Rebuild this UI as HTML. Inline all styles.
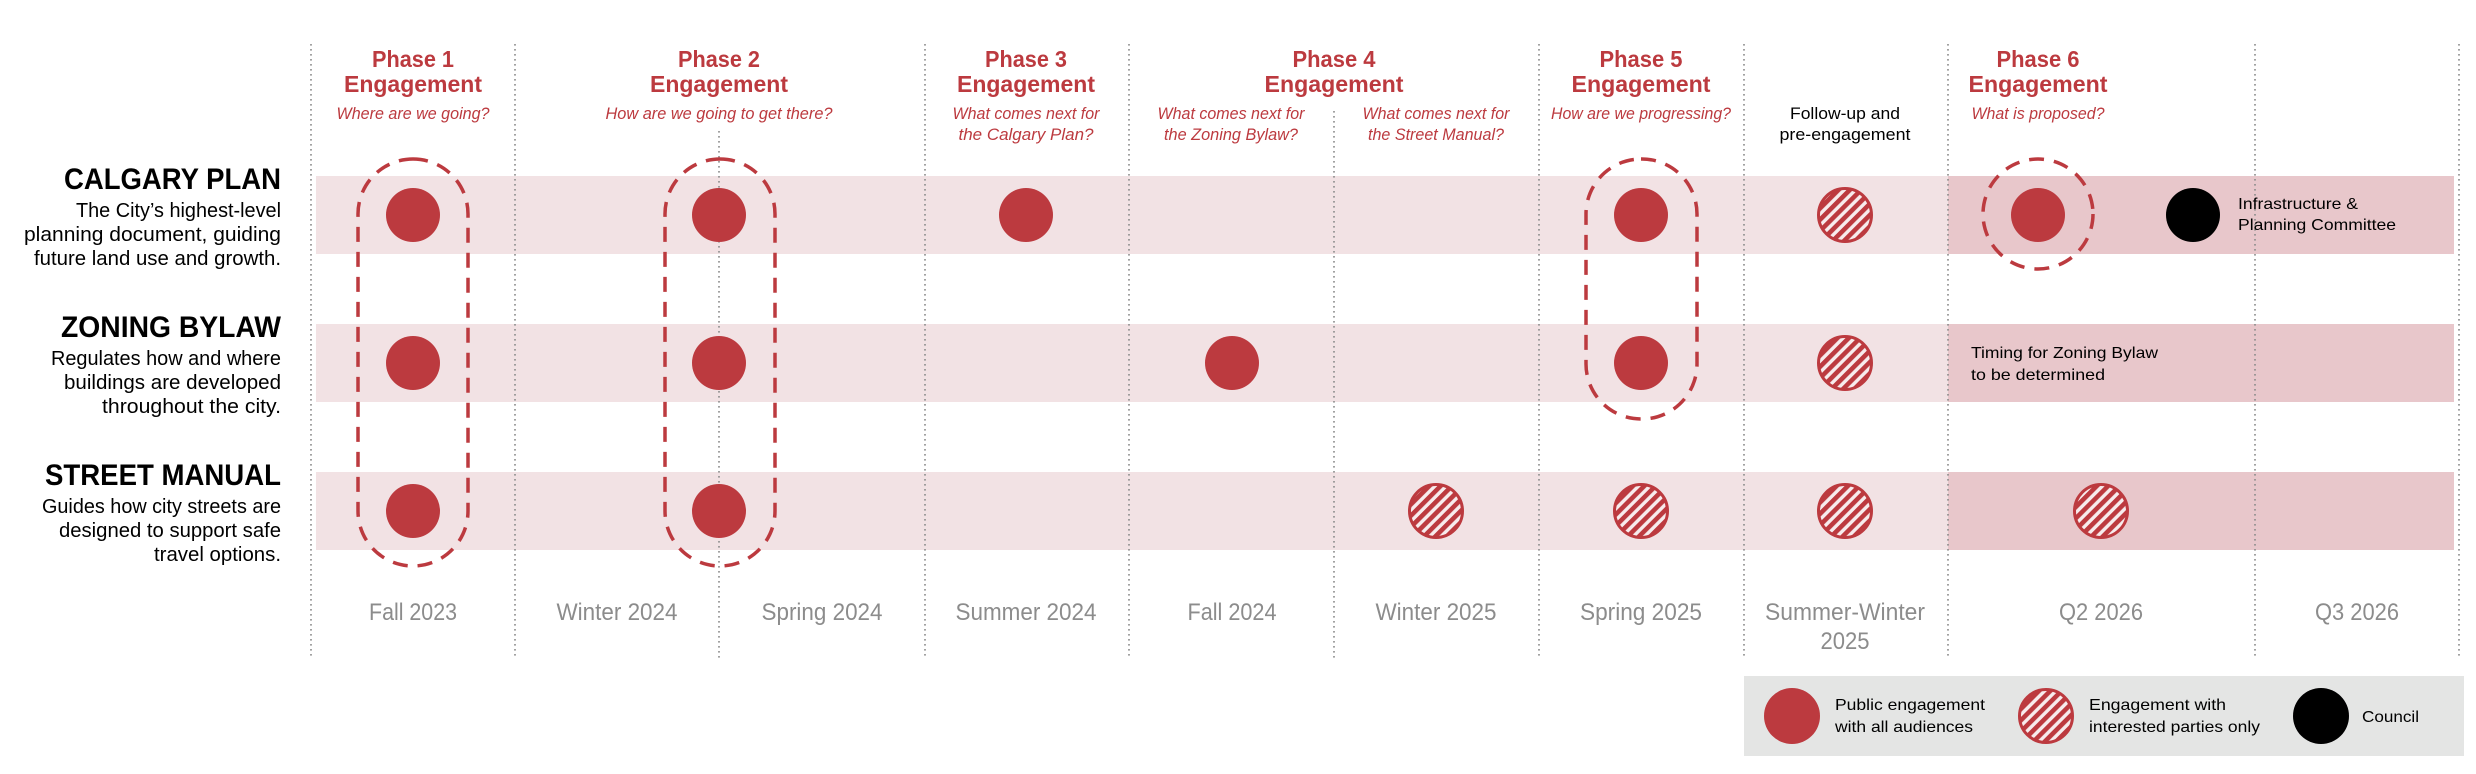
<!DOCTYPE html>
<html><head><meta charset="utf-8"><style>
html,body{margin:0;padding:0;background:#fff;}
svg{display:block;}
text{font-family:"Liberation Sans Narrow","Liberation Sans",sans-serif;}
.ph{font-weight:bold;font-size:23px;fill:#bc3a3f;text-anchor:middle;}
.sub{font-style:italic;font-size:17px;fill:#bc3a3f;text-anchor:middle;}
.dt{font-size:24px;fill:#8c8c8c;text-anchor:middle;}
.hd{font-weight:bold;font-size:30px;fill:#000;text-anchor:end;}
.ds{font-size:20px;fill:#000;text-anchor:end;}
.sm{font-size:16px;fill:#000;}
.vl{stroke:#8a8a8a;stroke-width:1.6;stroke-dasharray:1.6 3.4;}
.pill{fill:none;stroke:#bc3a3f;stroke-width:3.5;stroke-dasharray:15 10;}
</style></head><body>
<svg width="2476" height="774" viewBox="0 0 2476 774" xmlns="http://www.w3.org/2000/svg">
<defs>
<pattern id="h" patternUnits="userSpaceOnUse" width="8" height="8" patternTransform="rotate(45)">
<rect width="8" height="8" fill="#f7eced"/>
<rect width="4.6" height="8" fill="#bc3a3f"/>
</pattern>
</defs>
<!-- bands -->
<rect x="316" y="176" width="2138" height="78" fill="#f2e2e4"/>
<rect x="316" y="324" width="2138" height="78" fill="#f2e2e4"/>
<rect x="316" y="472" width="2138" height="78" fill="#f2e2e4"/>
<rect x="1948" y="176" width="506" height="78" fill="#e8c7cb"/>
<rect x="1948" y="324" width="506" height="78" fill="#e8c7cb"/>
<rect x="1948" y="472" width="506" height="78" fill="#e8c7cb"/>
<!-- vertical lines -->
<g class="vl">
<line x1="311" y1="44" x2="311" y2="659"/>
<line x1="515" y1="44" x2="515" y2="659"/>
<line x1="719" y1="131" x2="719" y2="659"/>
<line x1="925" y1="44" x2="925" y2="659"/>
<line x1="1129" y1="44" x2="1129" y2="659"/>
<line x1="1334" y1="111" x2="1334" y2="659"/>
<line x1="1539" y1="44" x2="1539" y2="659"/>
<line x1="1744" y1="44" x2="1744" y2="659"/>
<line x1="1948" y1="44" x2="1948" y2="659"/>
<line x1="2255" y1="44" x2="2255" y2="659"/>
<line x1="2459" y1="44" x2="2459" y2="659"/>
</g>
<!-- left labels -->
<text class="hd" x="281" y="189" textLength="217" lengthAdjust="spacingAndGlyphs">CALGARY PLAN</text>
<text class="ds" x="281" y="217" textLength="205" lengthAdjust="spacingAndGlyphs">The City’s highest-level</text>
<text class="ds" x="281" y="241" textLength="257" lengthAdjust="spacingAndGlyphs">planning document, guiding</text>
<text class="ds" x="281" y="265" textLength="247" lengthAdjust="spacingAndGlyphs">future land use and growth.</text>
<text class="hd" x="281" y="337" textLength="220" lengthAdjust="spacingAndGlyphs">ZONING BYLAW</text>
<text class="ds" x="281" y="365" textLength="230" lengthAdjust="spacingAndGlyphs">Regulates how and where</text>
<text class="ds" x="281" y="389" textLength="217" lengthAdjust="spacingAndGlyphs">buildings are developed</text>
<text class="ds" x="281" y="413" textLength="179" lengthAdjust="spacingAndGlyphs">throughout the city.</text>
<text class="hd" x="281" y="485" textLength="236" lengthAdjust="spacingAndGlyphs">STREET MANUAL</text>
<text class="ds" x="281" y="513" textLength="239" lengthAdjust="spacingAndGlyphs">Guides how city streets are</text>
<text class="ds" x="281" y="537" textLength="222" lengthAdjust="spacingAndGlyphs">designed to support safe</text>
<text class="ds" x="281" y="561" textLength="127" lengthAdjust="spacingAndGlyphs">travel options.</text>
<!-- phase headers -->
<g>
<text class="ph" x="413" y="67" textLength="82" lengthAdjust="spacingAndGlyphs">Phase 1</text>
<text class="ph" x="413" y="92" textLength="138" lengthAdjust="spacingAndGlyphs">Engagement</text>
<text class="sub" x="413" y="119" textLength="153" lengthAdjust="spacingAndGlyphs">Where are we going?</text>
<text class="ph" x="719" y="67" textLength="82" lengthAdjust="spacingAndGlyphs">Phase 2</text>
<text class="ph" x="719" y="92" textLength="138" lengthAdjust="spacingAndGlyphs">Engagement</text>
<text class="sub" x="719" y="119" textLength="227" lengthAdjust="spacingAndGlyphs">How are we going to get there?</text>
<text class="ph" x="1026" y="67" textLength="82" lengthAdjust="spacingAndGlyphs">Phase 3</text>
<text class="ph" x="1026" y="92" textLength="138" lengthAdjust="spacingAndGlyphs">Engagement</text>
<text class="sub" x="1026" y="119" textLength="147" lengthAdjust="spacingAndGlyphs">What comes next for</text>
<text class="sub" x="1026" y="140" textLength="135" lengthAdjust="spacingAndGlyphs">the Calgary Plan?</text>
<text class="ph" x="1334" y="67" textLength="83" lengthAdjust="spacingAndGlyphs">Phase 4</text>
<text class="ph" x="1334" y="92" textLength="139" lengthAdjust="spacingAndGlyphs">Engagement</text>
<text class="sub" x="1231" y="119" textLength="147" lengthAdjust="spacingAndGlyphs">What comes next for</text>
<text class="sub" x="1231" y="140" textLength="134" lengthAdjust="spacingAndGlyphs">the Zoning Bylaw?</text>
<text class="sub" x="1436" y="119" textLength="147" lengthAdjust="spacingAndGlyphs">What comes next for</text>
<text class="sub" x="1436" y="140" textLength="136" lengthAdjust="spacingAndGlyphs">the Street Manual?</text>
<text class="ph" x="1641" y="67" textLength="83" lengthAdjust="spacingAndGlyphs">Phase 5</text>
<text class="ph" x="1641" y="92" textLength="139" lengthAdjust="spacingAndGlyphs">Engagement</text>
<text class="sub" x="1641" y="119" textLength="180" lengthAdjust="spacingAndGlyphs">How are we progressing?</text>
<text class="sm" x="1845" y="119" text-anchor="middle" textLength="110" lengthAdjust="spacingAndGlyphs" style="font-size:17px">Follow-up and</text>
<text class="sm" x="1845" y="140" text-anchor="middle" textLength="131" lengthAdjust="spacingAndGlyphs" style="font-size:17px">pre-engagement</text>
<text class="ph" x="2038" y="67" textLength="83" lengthAdjust="spacingAndGlyphs">Phase 6</text>
<text class="ph" x="2038" y="92" textLength="139" lengthAdjust="spacingAndGlyphs">Engagement</text>
<text class="sub" x="2038" y="119" textLength="133" lengthAdjust="spacingAndGlyphs">What is proposed?</text>
</g>
<!-- pills -->
<rect class="pill" x="358" y="159" width="110" height="407" rx="55" ry="55"/>
<rect class="pill" x="665" y="159" width="110" height="407" rx="55" ry="55"/>
<rect class="pill" x="1586" y="159" width="111" height="260" rx="55" ry="55"/>
<ellipse class="pill" cx="2038" cy="214" rx="55" ry="55"/>
<!-- solid circles -->
<g fill="#bc3a3f">
<circle cx="413" cy="215" r="27"/><circle cx="413" cy="363" r="27"/><circle cx="413" cy="511" r="27"/>
<circle cx="719" cy="215" r="27"/><circle cx="719" cy="363" r="27"/><circle cx="719" cy="511" r="27"/>
<circle cx="1026" cy="215" r="27"/>
<circle cx="1232" cy="363" r="27"/>
<circle cx="1641" cy="215" r="27"/><circle cx="1641" cy="363" r="27"/>
<circle cx="2038" cy="215" r="27"/>
</g>
<circle cx="2193" cy="215" r="27" fill="#000"/>
<!-- hatched -->
<g fill="url(#h)" stroke="#bc3a3f" stroke-width="3">
<circle cx="1436" cy="511" r="26.5"/>
<circle cx="1641" cy="511" r="26.5"/>
<circle cx="1845" cy="215" r="26.5"/><circle cx="1845" cy="363" r="26.5"/><circle cx="1845" cy="511" r="26.5"/>
<circle cx="2101" cy="511" r="26.5"/>
</g>
<text class="sm" x="2238" y="209" textLength="120" lengthAdjust="spacingAndGlyphs">Infrastructure &amp;</text>
<text class="sm" x="2238" y="230" textLength="158" lengthAdjust="spacingAndGlyphs">Planning Committee</text>
<text class="sm" x="1971" y="358" textLength="187" lengthAdjust="spacingAndGlyphs">Timing for Zoning Bylaw</text>
<text class="sm" x="1971" y="380" textLength="134" lengthAdjust="spacingAndGlyphs">to be determined</text>
<!-- dates -->
<text class="dt" x="413" y="620" textLength="88" lengthAdjust="spacingAndGlyphs">Fall 2023</text>
<text class="dt" x="617" y="620" textLength="121" lengthAdjust="spacingAndGlyphs">Winter 2024</text>
<text class="dt" x="822" y="620" textLength="121" lengthAdjust="spacingAndGlyphs">Spring 2024</text>
<text class="dt" x="1026" y="620" textLength="141" lengthAdjust="spacingAndGlyphs">Summer 2024</text>
<text class="dt" x="1232" y="620" textLength="89" lengthAdjust="spacingAndGlyphs">Fall 2024</text>
<text class="dt" x="1436" y="620" textLength="121" lengthAdjust="spacingAndGlyphs">Winter 2025</text>
<text class="dt" x="1641" y="620" textLength="122" lengthAdjust="spacingAndGlyphs">Spring 2025</text>
<text class="dt" x="1845" y="620" textLength="160" lengthAdjust="spacingAndGlyphs">Summer-Winter</text>
<text class="dt" x="1845" y="649" textLength="49" lengthAdjust="spacingAndGlyphs">2025</text>
<text class="dt" x="2101" y="620" textLength="84" lengthAdjust="spacingAndGlyphs">Q2 2026</text>
<text class="dt" x="2357" y="620" textLength="84" lengthAdjust="spacingAndGlyphs">Q3 2026</text>
<!-- legend -->
<rect x="1744" y="676" width="720" height="80" fill="#e4e5e4"/>
<circle cx="1792" cy="716" r="28" fill="#bc3a3f"/>
<circle cx="2046" cy="716" r="26.5" fill="url(#h)" stroke="#bc3a3f" stroke-width="3"/>
<circle cx="2321" cy="716" r="28" fill="#000"/>
<text class="sm" x="1835" y="710" textLength="150" lengthAdjust="spacingAndGlyphs">Public engagement</text>
<text class="sm" x="1835" y="732" textLength="138" lengthAdjust="spacingAndGlyphs">with all audiences</text>
<text class="sm" x="2089" y="710" textLength="137" lengthAdjust="spacingAndGlyphs">Engagement with</text>
<text class="sm" x="2089" y="732" textLength="171" lengthAdjust="spacingAndGlyphs">interested parties only</text>
<text class="sm" x="2362" y="722" textLength="57" lengthAdjust="spacingAndGlyphs">Council</text>
</svg>
</body></html>
